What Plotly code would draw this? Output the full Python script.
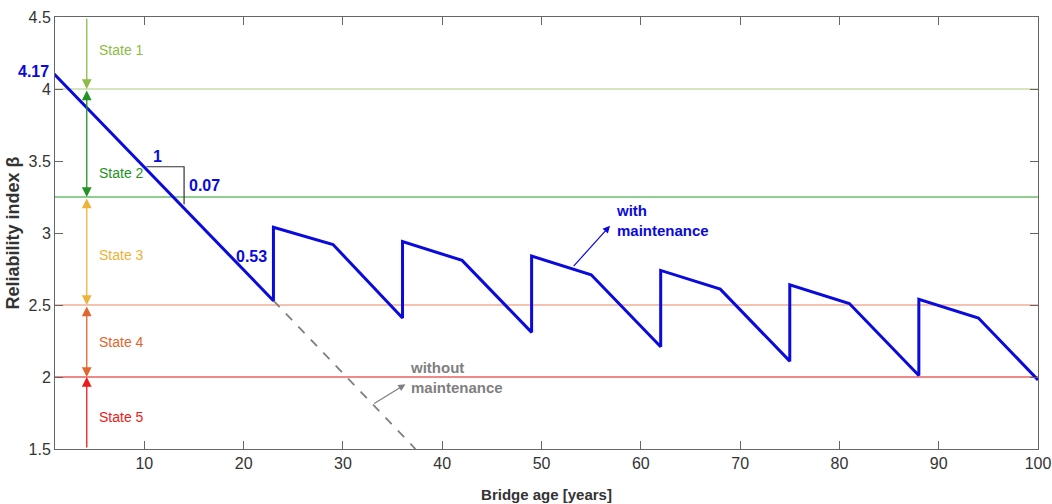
import plotly.graph_objects as go

# ---- data ----
with_x = [0, 23, 23, 29, 36, 36, 42, 49, 49, 55, 62, 62, 68, 75, 75, 81, 88, 88, 94, 100]
with_y = [4.17, 2.53, 3.04, 2.92, 2.41, 2.94, 2.81, 2.31, 2.84, 2.71, 2.21, 2.74, 2.61, 2.11,
          2.64, 2.51, 2.01, 2.54, 2.41, 1.98]
without_x = [23, 37.3]
without_y = [2.53, 1.5]
slope_x = [10.2, 14, 14]
slope_y = [3.46, 3.46, 3.20]

state_bounds = [4.5, 4.0, 3.25, 2.5, 2.0, 1.5]
state_names = ["State 1", "State 2", "State 3", "State 4", "State 5"]
state_colors = ["#8DBB45", "#229322", "#EDB23A", "#E0662C", "#EE1A1A"]
line_levels = [4.0, 3.25, 2.5, 2.0]
line_colors = ["#C9DDA6", "#6DBB6D", "#F2AE98", "#E86262"]
state_label_y = [4.27, 3.42, 2.85, 2.24, 1.72]
arrow_x = 4.2

x_ticks = [10, 20, 30, 40, 50, 60, 70, 80, 90, 100]
y_ticks = [1.5, 2, 2.5, 3, 3.5, 4, 4.5]
y_tick_text = ["1.5", "2", "2.5", "3", "3.5", "4", "4.5"]

FONT = "Liberation Sans, Arial, sans-serif"
BLUE = "#0A0ADC"
GRAY = "#7F7F7F"

fig = go.Figure()

for lvl, col in zip(line_levels, line_colors):
    fig.add_trace(go.Scatter(x=[1, 100], y=[lvl, lvl], mode="lines",
                             line=dict(color=col, width=1.5), hoverinfo="skip", showlegend=False))

fig.add_trace(go.Scatter(x=without_x, y=without_y, mode="lines",
                         line=dict(color=GRAY, width=1.8, dash="dash"), showlegend=False))

fig.add_trace(go.Scatter(x=slope_x, y=slope_y, mode="lines",
                         line=dict(color="#333333", width=1.2), showlegend=False))

fig.add_trace(go.Scatter(x=with_x, y=with_y, mode="lines",
                         line=dict(color=BLUE, width=3), showlegend=False))

annotations = []
for i, name in enumerate(state_names):
    top, bot = state_bounds[i], state_bounds[i + 1]
    col = state_colors[i]
    if i == 0:
        annotations.append(dict(x=arrow_x, y=bot, ax=arrow_x, ay=top, xref="x", yref="y",
                                axref="x", ayref="y", showarrow=True, arrowhead=2, arrowsize=1.5,
                                arrowwidth=1.3, arrowcolor=col, text=""))
    elif i == len(state_names) - 1:
        annotations.append(dict(x=arrow_x, y=top, ax=arrow_x, ay=bot, xref="x", yref="y",
                                axref="x", ayref="y", showarrow=True, arrowhead=2, arrowsize=1.5,
                                arrowwidth=1.3, arrowcolor=col, text=""))
    else:
        annotations.append(dict(x=arrow_x, y=bot, ax=arrow_x, ay=top, xref="x", yref="y",
                                axref="x", ayref="y", showarrow=True, arrowhead=2, startarrowhead=2,
                                arrowside="end+start", arrowsize=1.5, startarrowsize=1.5,
                                arrowwidth=1.3, arrowcolor=col, text=""))
    annotations.append(dict(x=5.2, y=state_label_y[i], xref="x", yref="y", text=name,
                            showarrow=False, xanchor="left", yanchor="middle",
                            font=dict(family=FONT, size=14, color=col)))

annotations += [
    dict(x=11.3, y=3.53, xref="x", yref="y", text="<b>1</b>", showarrow=False,
         font=dict(family=FONT, size=16, color=BLUE)),
    dict(x=14.3, y=3.33, xref="x", yref="y", text="<b>0.07</b>", showarrow=False, xanchor="left",
         font=dict(family=FONT, size=16, color=BLUE)),
    dict(x=22.6, y=2.84, xref="x", yref="y", text="<b>0.53</b>", showarrow=False, xanchor="right",
         font=dict(family=FONT, size=16, color=BLUE)),
    dict(x=0, y=4.12, xref="paper", yref="y", text="<b>4.17</b>", showarrow=False,
         xanchor="right", xshift=-4, font=dict(family=FONT, size=16, color=BLUE)),
]
annotations += [
    dict(x=57.3, y=3.09, xref="x", yref="y", text="<b>with<br>maintenance</b>", showarrow=False,
         xanchor="left", yanchor="middle", align="left",
         font=dict(family=FONT, size=15, color=BLUE)),
    dict(x=56.9, y=3.05, ax=53.1, ay=2.76, xref="x", yref="y", axref="x", ayref="y", text="",
         showarrow=True, arrowhead=2, arrowsize=1.2, arrowwidth=1.2, arrowcolor=BLUE),
    dict(x=36.6, y=2.0, xref="x", yref="y", text="<b>without<br>maintenance</b>", showarrow=False,
         xanchor="left", yanchor="middle", align="left",
         font=dict(family=FONT, size=15, color=GRAY)),
    dict(x=36.3, y=1.95, ax=33.0, ay=1.81, xref="x", yref="y", axref="x", ayref="y", text="",
         showarrow=True, arrowhead=2, arrowsize=1.2, arrowwidth=1.2, arrowcolor=GRAY),
]

fig.update_layout(
    width=1052, height=504,
    margin=dict(l=55, r=14, t=17, b=55, autoexpand=False),
    plot_bgcolor="white", paper_bgcolor="white",
    showlegend=False,
    font=dict(family=FONT, size=16, color="#333333"),
    annotations=annotations,
    xaxis=dict(range=[1, 100], tickvals=x_ticks, ticks="inside", ticklen=8, tickcolor="#666666",
               showline=True, linecolor="#666666", linewidth=1, mirror="allticks", showgrid=False,
               zeroline=False, automargin=False, tickfont=dict(size=16, color="#333333"),
               title=dict(text="<b>Bridge age [years]</b>", standoff=18,
                          font=dict(size=15, color="#333333"))),
    yaxis=dict(range=[1.5, 4.5], tickvals=y_ticks, ticktext=y_tick_text, ticks="inside", ticklen=8,
               tickcolor="#666666", showline=True, linecolor="#666666", linewidth=1,
               mirror="allticks", showgrid=False, zeroline=False, automargin=False,
               tickfont=dict(size=16, color="#333333"),
               title=dict(text="<b>Reliability index β</b>", standoff=4,
                          font=dict(size=18, color="#333333"))),
)

fig.write_html("out.html")
